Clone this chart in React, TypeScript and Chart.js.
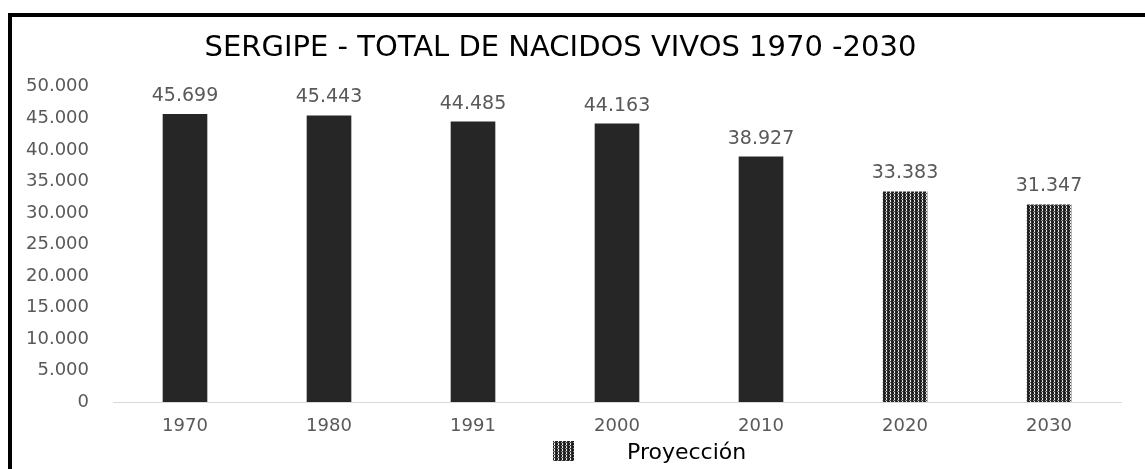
import React, { useEffect, useRef } from "react";
import { Chart, registerables } from "chart.js";

Chart.register(...registerables);

const categories = ["1970", "1980", "1991", "2000", "2010", "2020", "2030"];
const births = [45699, 45443, 44485, 44163, 38927, 33383, 31347];
const isProjection = [false, false, false, false, false, true, true];
const yMax = 50000;
const yStep = 5000;
const titleText = "SERGIPE - TOTAL DE NACIDOS VIVOS 1970 -2030";
const legendLabel = "Proyección";

const FONT = "'DejaVu Sans', sans-serif";

function fmt(n: number): string {
  return Math.round(n).toString().replace(/\B(?=(\d{3})+(?!\d))/g, ".");
}

function makePattern(ctx: CanvasRenderingContext2D): CanvasPattern | string {
  const tile = document.createElement("canvas");
  tile.width = 4;
  tile.height = 3;
  const t = tile.getContext("2d");
  if (!t) return "#444";
  const rows = [
    ["#1e1e1e", "#1e1e1e", "#f2f2f2", "#2a2a2a"],
    ["#1e1e1e", "#9a9a9a", "#4a4a4a", "#2a2a2a"],
    ["#1e1e1e", "#1e1e1e", "#e0e0e0", "#2a2a2a"],
  ];
  rows.forEach((row, y) =>
    row.forEach((c, x) => {
      t.fillStyle = c;
      t.fillRect(x, y, 1, 1);
    })
  );
  return ctx.createPattern(tile, "repeat") || "#444";
}

export default function App() {
  const ref = useRef<HTMLCanvasElement | null>(null);

  useEffect(() => {
    const canvas = ref.current;
    if (!canvas) return;
    const ctx = canvas.getContext("2d");
    if (!ctx) return;
    const pattern = makePattern(ctx);

    const valueLabels = {
      id: "valueLabels",
      afterDatasetsDraw(chart: any) {
        const c = chart.ctx;
        const meta = chart.getDatasetMeta(0);
        c.save();
        c.font = `19px ${FONT}`;
        c.fillStyle = "#595959";
        c.textAlign = "center";
        c.textBaseline = "middle";
        meta.data.forEach((bar: any, i: number) => {
          c.fillText(fmt(births[i]), bar.x, bar.y - 18);
        });
        c.restore();
      },
    };

    const customLegend = {
      id: "customLegend",
      afterDraw(chart: any) {
        const c = chart.ctx;
        c.save();
        c.fillStyle = pattern as any;
        c.fillRect(553, 441, 21, 20);
        c.font = `22px ${FONT}`;
        c.fillStyle = "#000000";
        c.textAlign = "left";
        c.textBaseline = "middle";
        c.fillText(legendLabel, 627, 453);
        c.restore();
      },
    };

    const chart = new Chart(ctx, {
      type: "bar",
      data: {
        labels: categories,
        datasets: [
          {
            label: "Nacidos vivos",
            data: births,
            backgroundColor: isProjection.map((p) => (p ? (pattern as any) : "#262626")),
            borderWidth: 0,
            barPercentage: 0.31,
            categoryPercentage: 1,
          },
        ],
      },
      options: {
        responsive: false,
        animation: false,
        layout: { padding: { left: 0, right: 24, top: 0, bottom: 0 } },
        plugins: {
          legend: { display: false },
          tooltip: { enabled: false },
          title: {
            display: true,
            text: titleText,
            color: "#000000",
            font: { family: FONT, size: 29, weight: "normal" as any, lineHeight: 1.2 },
            padding: { top: 31, bottom: 21 },
          },
        },
        scales: {
          x: {
            grid: { display: false, drawTicks: false },
            border: { display: true, color: "#d9d9d9", width: 1 },
            ticks: { color: "#595959", font: { family: FONT, size: 18 }, padding: 14 },
            afterFit: (s: any) => {
              s.height = 67;
            },
          },
          y: {
            min: 0,
            max: yMax,
            grid: { display: false, drawTicks: false },
            border: { display: false },
            ticks: {
              stepSize: yStep,
              color: "#595959",
              font: { family: FONT, size: 18 },
              padding: 24,
              callback: (v: any) => fmt(Number(v)),
            },
            afterFit: (s: any) => {
              s.width = 113;
            },
          },
        },
      },
      plugins: [valueLabels, customLegend],
    });

    return () => chart.destroy();
  }, []);

  return (
    <div
      style={{
        position: "fixed",
        left: 0,
        top: 0,
        width: 1145,
        height: 469,
        background: "#ffffff",
        overflow: "hidden",
      }}
    >
      <canvas ref={ref} width={1145} height={469} style={{ position: "absolute", left: 0, top: 0 }} />
      <div
        style={{
          position: "absolute",
          left: 8,
          top: 13,
          right: 0,
          bottom: 0,
          borderTop: "4px solid #000",
          borderLeft: "4px solid #000",
          pointerEvents: "none",
        }}
      />
    </div>
  );
}
